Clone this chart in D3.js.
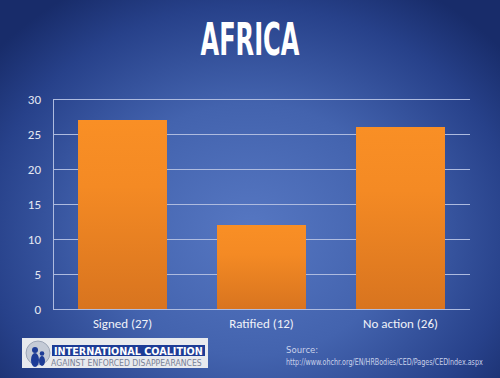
<!DOCTYPE html>
<html><head><meta charset="utf-8">
<script src="https://cdn.jsdelivr.net/npm/d3@7"></script>
<style>html,body{margin:0;padding:0;background:#1b2f6c;}svg{display:block;}</style>
</head><body>
<script>
const categories = ["Signed (27)", "Ratified (12)", "No action (26)"];
const values = [27, 12, 26];
const yTicks = [0, 5, 10, 15, 20, 25, 30];
const title = "AFRICA";
const sourceLines = ["Source:", "http://www.ohchr.org/EN/HRBodies/CED/Pages/CEDIndex.aspx"];

const W = 500, H = 378;
const svg = d3.select("body").append("svg").attr("width", W).attr("height", H);
const defs = svg.append("defs");
const rg = defs.append("radialGradient").attr("id", "bg").attr("gradientUnits", "userSpaceOnUse")
  .attr("cx", 250).attr("cy", 230).attr("r", 330).attr("fx", 250).attr("fy", 230)
  .attr("gradientTransform", "translate(250,230) scale(1,0.85) translate(-250,-230)");
rg.append("stop").attr("offset", "0").attr("stop-color", "#5677c2");
rg.append("stop").attr("offset", "0.45").attr("stop-color", "#4363ae");
rg.append("stop").attr("offset", "0.8").attr("stop-color", "#27418a");
rg.append("stop").attr("offset", "1").attr("stop-color", "#182c6a");
const bg = defs.append("linearGradient").attr("id", "bar").attr("x1", 0).attr("y1", 0).attr("x2", 0).attr("y2", 1);
bg.append("stop").attr("offset", "0").attr("stop-color", "#f98f25");
bg.append("stop").attr("offset", "0.35").attr("stop-color", "#f48a24");
bg.append("stop").attr("offset", "1").attr("stop-color", "#d8741f");

svg.append("rect").attr("width", W).attr("height", H).attr("fill", "url(#bg)");

const x = d3.scaleBand().domain(categories).range([53, 470]).paddingInner(0.36).paddingOuter(0.18);
const y = d3.scaleLinear().domain([0, 30]).range([309, 99]);

// fit a text horizontally to a given width using a scale transform
function fitText(sel, x0, y0, width, anchor) {
  const node = sel.node();
  const len = node.getComputedTextLength();
  const s = width / len;
  const left = anchor === "middle" ? x0 - width / 2 : x0;
  sel.attr("x", 0).attr("y", 0).attr("text-anchor", "start")
    .attr("transform", `translate(${left},${y0}) scale(${s},1)`);
}

// gridlines
svg.append("g").selectAll("line").data(yTicks).join("line")
  .attr("x1", 53).attr("x2", 470).attr("y1", d => y(d)).attr("y2", d => y(d))
  .attr("stroke", "#aebbdf").attr("stroke-width", 1).attr("shape-rendering", "crispEdges");
svg.append("line").attr("x1", 53).attr("x2", 53).attr("y1", y(30)).attr("y2", y(0))
  .attr("stroke", "#aebbdf").attr("shape-rendering", "crispEdges");

// bars
svg.append("g").selectAll("rect").data(values).join("rect")
  .attr("x", (d, i) => x(categories[i])).attr("width", x.bandwidth())
  .attr("y", d => y(d)).attr("height", d => y(0) - y(d))
  .attr("fill", "url(#bar)");

// y axis labels
const yAxis = svg.append("g").attr("transform", "translate(53,0)")
  .call(d3.axisLeft(y).tickValues(yTicks).tickSize(0).tickPadding(12));
yAxis.select(".domain").remove();
yAxis.selectAll("text").attr("fill", "#e6e9f3").attr("font-family", "Calibri, Carlito, 'Open Sans', sans-serif")
  .attr("font-size", 13);

// x axis labels
const xAxis = svg.append("g").attr("transform", "translate(0,309)")
  .call(d3.axisBottom(x).tickSize(0).tickPadding(10));
xAxis.select(".domain").remove();
xAxis.selectAll("text").attr("fill", "#f0f2f8").attr("font-family", "Calibri, Carlito, 'Open Sans', sans-serif")
  .attr("font-size", 13);

// title
const t = svg.append("text")
  .attr("font-family", "'Liberation Sans Narrow', 'DejaVu Sans Condensed', sans-serif")
  .attr("font-weight", "bold").attr("font-size", 44).attr("fill", "#ffffff").text(title);
fitText(t, 250, 55, 99, "middle");

// source
svg.append("text").attr("x", 286).attr("y", 353)
  .attr("font-family", "'Liberation Sans Narrow', 'DejaVu Sans Condensed', sans-serif")
  .attr("font-size", 9.5).attr("fill", "#c9d1ea").text(sourceLines[0]);
const u = svg.append("text")
  .attr("font-family", "'Liberation Sans Narrow', 'DejaVu Sans Condensed', sans-serif")
  .attr("font-size", 9).attr("fill", "#c9d1ea").text(sourceLines[1]);
fitText(u, 286, 365, 197, "start");

// logo
const logo = svg.append("g");
logo.append("rect").attr("x", 22).attr("y", 338).attr("width", 186).attr("height", 30).attr("fill", "#e8eaee");
logo.append("rect").attr("x", 52).attr("y", 345).attr("width", 153).attr("height", 11).attr("fill", "#1d3c96");
logo.append("circle").attr("cx", 38).attr("cy", 353).attr("r", 12).attr("fill", "#c5cbd6");
logo.append("circle").attr("cx", 38).attr("cy", 353).attr("r", 12).attr("fill", "none").attr("stroke", "#8f99ac").attr("stroke-width", 0.8);
logo.append("ellipse").attr("cx", 35).attr("cy", 360).attr("rx", 4).attr("ry", 7).attr("fill", "#1d3c96");
logo.append("circle").attr("cx", 35).attr("cy", 350).attr("r", 3).attr("fill", "#1d3c96");
logo.append("ellipse").attr("cx", 42).attr("cy", 361).attr("rx", 3).attr("ry", 5).attr("fill", "#1d3c96");
logo.append("circle").attr("cx", 42).attr("cy", 353.5).attr("r", 2.3).attr("fill", "#1d3c96");
const l1 = logo.append("text").attr("font-family", "'DejaVu Sans', sans-serif")
  .attr("font-weight", "bold").attr("font-size", 11).attr("fill", "#ffffff").text("INTERNATIONAL COALITION");
fitText(l1, 54, 355, 149, "start");
const l2 = logo.append("text").attr("font-family", "'DejaVu Sans', sans-serif")
  .attr("font-size", 9).attr("fill", "#7a8296").text("AGAINST ENFORCED DISAPPEARANCES");
fitText(l2, 51, 366, 151, "start");
</script>
</body></html>
